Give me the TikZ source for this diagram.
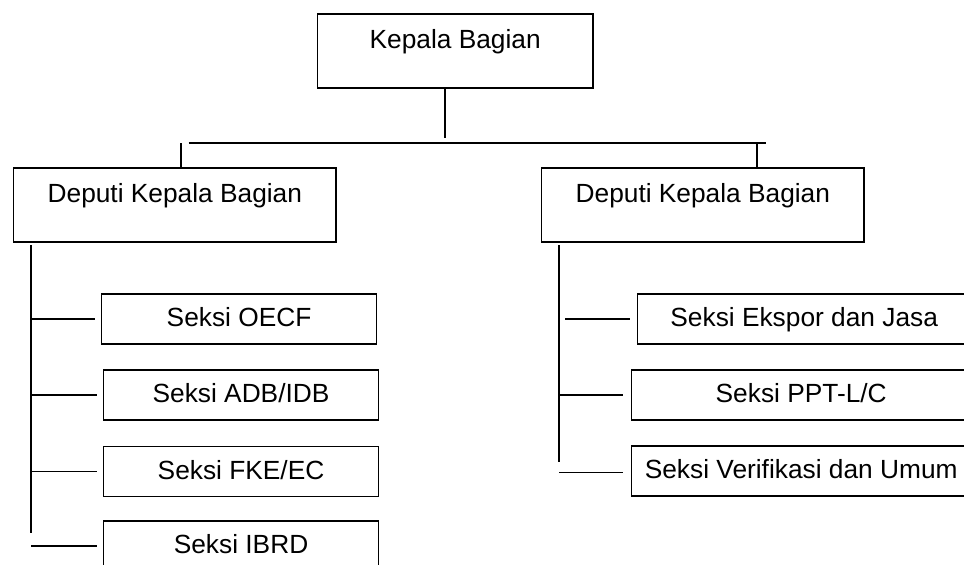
\documentclass[tikz,border=0pt]{standalone}
\usepackage{fontspec}
\setmainfont{Liberation Sans}
\usetikzlibrary{calc}
\begin{document}
\begin{tikzpicture}[x=1pt,y=-1pt,
  orgbox/.style={draw, line width=1.7pt, inner sep=0pt, anchor=north west,
    font=\fontsize{26.3}{30}\selectfont},
  headbox/.style={orgbox, text height=34pt, text depth=40pt},
  secbox/.style={orgbox, text height=32.5pt, text depth=17.5pt},
  conn/.style={line width=1.7pt}]
\clip (0,0) rectangle (964,565);
% boxes
\node[headbox, minimum width=275.3pt] (kb) at (316.7,13.3) {Kepala Bagian};
\node[headbox, minimum width=322.6pt] (dkl) at (12.7,167.3) {Deputi Kepala Bagian};
\node[headbox, minimum width=322.6pt] (dkr) at (540.7,167.3) {Deputi Kepala Bagian};
\node[secbox, minimum width=275pt] (oecf) at (100.7,293.3) {Seksi OECF};
\node[secbox, minimum width=275pt] (adb) at (102.7,369.3) {Seksi ADB/IDB};
\node[secbox, minimum width=275pt] (fke) at (102.7,445.7) {Seksi FKE/EC};
\node[secbox, minimum width=275pt] (ibrd) at (102.7,520) {Seksi IBRD};
\node[secbox, minimum width=333.3pt] (ekspor) at (636.7,293.3) {Seksi Ekspor dan Jasa};
\node[secbox, minimum width=339.3pt] (ppt) at (630.7,369.3) {Seksi PPT-L/C};
\node[secbox, minimum width=339.3pt] (verif) at (630.7,445) {Seksi Verifikasi dan Umum};
% coordinates
\coordinate (busC) at (445,143.3);
\coordinate (busL) at (188.7,143.3);
\coordinate (busR) at (765.7,143.3);
\coordinate (tickL) at (181.3,143.3);
\coordinate (tickR) at (757,143.3);
\coordinate (trL) at (31,245);
\coordinate (trLend) at (31,533.3);
\coordinate (trR) at (559,245);
\coordinate (trRend) at (559,461.7);
% connectors
\draw[conn] (kb.south -| busC) -- ($(busC)+(0,-5.6)$);
\draw[conn] (busL) -- (busR);
\draw[conn] (tickL) -- (tickL |- dkl.north);
\draw[conn] (tickR) -- (tickR |- dkr.north);
\draw[conn] (trL) -- (trLend);
\draw[conn] (trR) -- (trRend);
\foreach \n in {oecf,adb,fke,ibrd}
  \draw[conn, shorten >=6pt] (trL |- \n.west) -- (\n.west);
\draw[conn, shorten <=6pt, shorten >=6.7pt] (trR |- ekspor.west) -- (ekspor.west);
\draw[conn, shorten >=7.4pt] (trR |- ppt.west) -- (ppt.west);
\draw[conn, shorten >=7.6pt] ($(trR |- verif.west)+(0,1.5)$) -- ($(verif.west)+(0,1.5)$);
\end{tikzpicture}
\end{document}
